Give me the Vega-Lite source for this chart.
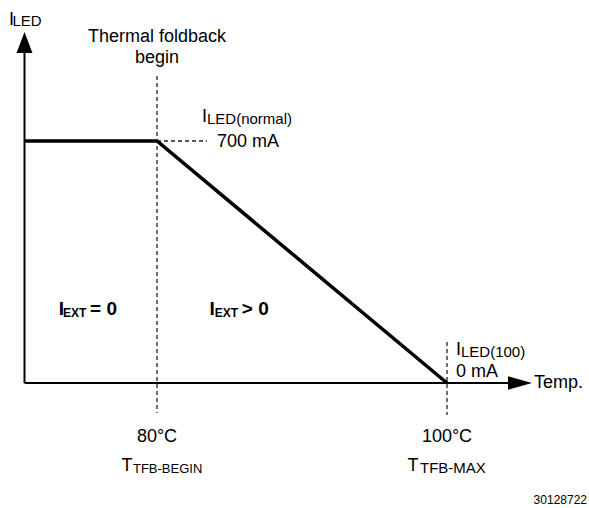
{
  "$schema": "https://vega.github.io/schema/vega-lite/v6.json",
  "width": 589,
  "height": 508,
  "padding": 0,
  "autosize": {"type": "none"},
  "background": "white",
  "config": {"view": {"stroke": null}, "text": {"font": "Liberation Sans", "color": "#000"}},
  "encoding": {
    "x": {"field": "t", "type": "quantitative", "scale": {"domain": [69.172, 109.793], "nice": false, "zero": false}, "axis": null},
    "y": {"field": "c", "type": "quantitative", "scale": {"domain": [-361.6, 1107.86], "nice": false, "zero": false}, "axis": null}
  },
  "layer": [
    {
      "data": {"values": [
        {"t": 80, "c": 888.0, "c2": -86.8},
        {"t": 100, "c": 118.6, "c2": -92.6}
      ]},
      "mark": {"type": "rule", "color": "#222", "strokeWidth": 1.3, "strokeDash": [4, 3]},
      "encoding": {"y2": {"field": "c2"}}
    },
    {
      "data": {"values": [{"t": 80, "t2": 83.45, "c": 700}]},
      "mark": {"type": "rule", "color": "#222", "strokeWidth": 1.3, "strokeDash": [4, 3]},
      "encoding": {"x2": {"field": "t2"}}
    },
    {
      "data": {"values": [{"t": 70.862, "c": 0, "c2": 954.5}]},
      "mark": {"type": "rule", "color": "#000", "strokeWidth": 2},
      "encoding": {"y2": {"field": "c2"}}
    },
    {
      "data": {"values": [{"t": 70.862, "t2": 104.275, "c": 0}]},
      "mark": {"type": "rule", "color": "#000", "strokeWidth": 2},
      "encoding": {"x2": {"field": "t2"}}
    },
    {
      "data": {"values": [{"t": 70.862, "c": 984.9}]},
      "mark": {"type": "point", "shape": "M0,-1L0.76,1L-0.76,1Z", "size": 441, "filled": true, "color": "#000", "opacity": 1}
    },
    {
      "data": {"values": [{"t": 105.034, "c": 0}]},
      "mark": {"type": "point", "shape": "M1,0L-1,-0.56L-1,0.56Z", "size": 576, "filled": true, "color": "#000", "opacity": 1}
    },
    {
      "data": {"values": [
        {"i": 0, "t": 70.862, "c": 700},
        {"i": 1, "t": 80, "c": 700},
        {"i": 2, "t": 100, "c": 0}
      ]},
      "mark": {"type": "line", "color": "#000", "strokeWidth": 3.5, "strokeJoin": "miter"},
      "encoding": {"order": {"field": "i", "type": "quantitative"}}
    },
    {
      "data": {"values": [
        {"t": 80, "c": 986.4, "label": "Thermal foldback"},
        {"t": 80, "c": 925.6, "label": "begin"},
        {"t": 80, "c": -170.7, "label": "80°C"},
        {"t": 100, "c": -170.7, "label": "100°C"}
      ]},
      "mark": {"type": "text", "fontSize": 18, "align": "center", "baseline": "alphabetic"},
      "encoding": {"text": {"field": "label"}}
    },
    {
      "data": {"values": [
        {"t": 69.793, "c": 1035.5, "label": "I"},
        {"t": 83.103, "c": 755.0, "label": "I"},
        {"t": 84.138, "c": 682.6, "label": "700 mA"},
        {"t": 100.62, "c": 81.0, "label": "I"},
        {"t": 100.62, "c": 17.3, "label": "0 mA"},
        {"t": 106.0, "c": -14.5, "label": "Temp."},
        {"t": 77.551, "c": -254.6, "label": "T"},
        {"t": 97.275, "c": -254.6, "label": "T"}
      ]},
      "mark": {"type": "text", "fontSize": 18, "align": "left", "baseline": "alphabetic"},
      "encoding": {"text": {"field": "label"}}
    },
    {
      "data": {"values": [
        {"t": 70.034, "c": 1032.6, "label": "LED"},
        {"t": 83.448, "c": 749.2, "label": "LED(normal)"},
        {"t": 100.965, "c": 75.2, "label": "LED(100)"},
        {"t": 98.138, "c": -260.4, "label": "TFB-MAX"}
      ]},
      "mark": {"type": "text", "fontSize": 15, "align": "left", "baseline": "alphabetic"},
      "encoding": {"text": {"field": "label"}}
    },
    {
      "data": {"values": [
        {"t": 78.344, "c": -260.4, "label": "TFB-BEGIN"}
      ]},
      "mark": {"type": "text", "fontSize": 13, "align": "left", "baseline": "alphabetic"},
      "encoding": {"text": {"field": "label"}}
    },
    {
      "data": {"values": [
        {"t": 73.22, "c": 196.7, "label": "I"},
        {"t": 75.38, "c": 196.7, "label": "= 0"},
        {"t": 83.613, "c": 196.7, "label": "I"},
        {"t": 85.85, "c": 196.7, "label": "> 0"}
      ]},
      "mark": {"type": "text", "fontSize": 19, "fontWeight": "bold", "align": "left", "baseline": "alphabetic"},
      "encoding": {"text": {"field": "label"}}
    },
    {
      "data": {"values": [
        {"t": 73.51, "c": 190.9, "label": "EXT"},
        {"t": 83.99, "c": 190.9, "label": "EXT"}
      ]},
      "mark": {"type": "text", "fontSize": 12, "fontWeight": "bold", "align": "left", "baseline": "alphabetic"},
      "encoding": {"text": {"field": "label"}}
    },
    {
      "data": {"values": [
        {"t": 109.655, "c": -349.0, "label": "30128722"}
      ]},
      "mark": {"type": "text", "fontSize": 12, "align": "right", "baseline": "alphabetic"},
      "encoding": {"text": {"field": "label"}}
    }
  ]
}
